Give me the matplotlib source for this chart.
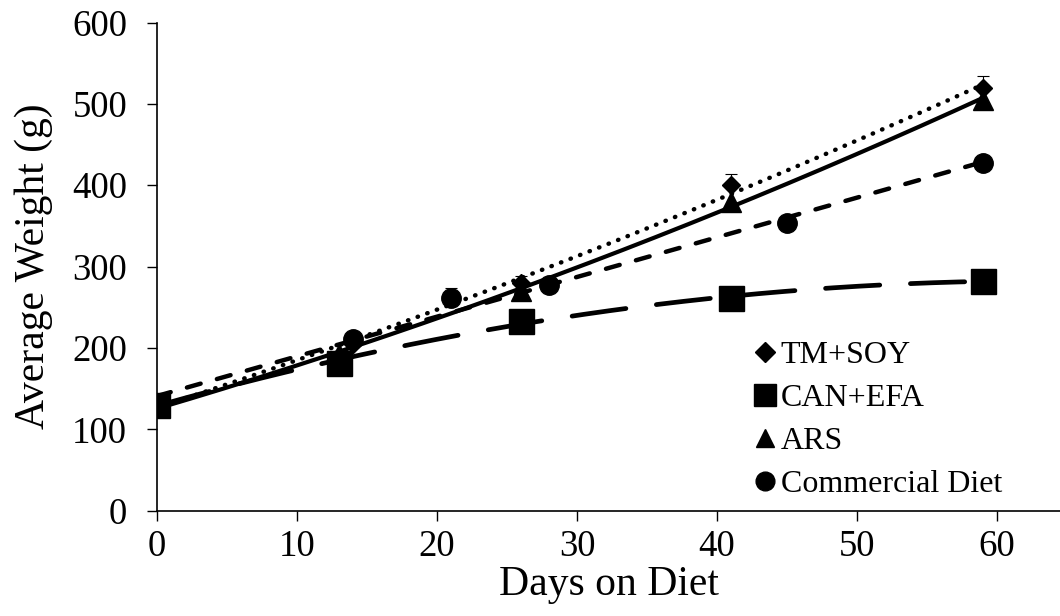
import numpy as np
import matplotlib
matplotlib.use("Agg")
import matplotlib.pyplot as plt
from matplotlib.lines import Line2D

# ---- data ----
tm_days = [0, 14, 26, 41, 59]
tm_wt = [130, 205, 280, 400, 520]
tm_err = [0, 0, 8, 14, 14]

can_days = [0, 13, 26, 41, 59]
can_wt = [130, 182, 233, 262, 282]

ars_days = [0, 13, 26, 41, 59]
ars_wt = [128, 192, 270, 380, 505]

com_days = [0, 14, 21, 28, 45, 59]
com_wt = [130, 211, 261, 277, 354, 427]
com_err = [0, 0, 13, 0, 0, 0]

series_labels = ["TM+SOY", "CAN+EFA", "ARS", "Commercial Diet"]
x_ticks = [0, 10, 20, 30, 40, 50, 60]
y_ticks = [0, 100, 200, 300, 400, 500, 600]

plt.rcParams['font.family'] = ['Liberation Serif', 'DejaVu Serif']

fig = plt.figure(figsize=(10.6, 6.16), dpi=100)
ax = fig.add_axes([157/1060, (616-510.7)/616, (1060-157)/1060, (510.7-22.5)/616])

def trend(days, wt, deg, ax, **kw):
    c = np.polyfit(days, wt, deg)
    xs = np.linspace(min(days), max(days), 200)
    ax.plot(xs, np.polyval(c, xs), color='black', **kw)

trend(tm_days, tm_wt, 2, ax, lw=3.2, linestyle=(0, (0.1, 2.2)), dash_capstyle='round', zorder=2)
trend(can_days, can_wt, 2, ax, lw=3.4, linestyle=(0, (11.5, 6.5)), dash_capstyle='round', zorder=2)
trend(ars_days, ars_wt, 2, ax, lw=3.0, linestyle='-', zorder=2)
trend(com_days, com_wt, 1, ax, lw=3.2, linestyle=(0, (3.2, 3.8)), dash_capstyle='round', zorder=2)

ekw = dict(ecolor='black', elinewidth=0.8, capsize=4, capthick=0.8)
ax.errorbar(tm_days, tm_wt, yerr=[np.zeros(len(tm_err)), tm_err], fmt='none', zorder=3, **ekw)
ax.errorbar(com_days, com_wt, yerr=[np.zeros(len(com_err)), com_err], fmt='none', zorder=3, **ekw)

ax.plot(com_days, com_wt, 'o', color='black', ms=14, zorder=4)
ax.plot(can_days, can_wt, 's', color='black', ms=18, zorder=4)
ax.plot(ars_days, ars_wt, '^', color='black', ms=15, zorder=5)
ax.plot(tm_days, tm_wt, 'D', color='black', ms=9.5, zorder=6)

ax.set_xlim(0, 64.5)
ax.set_ylim(0, 600)
ax.set_xticks(x_ticks)
ax.set_yticks(y_ticks)
ax.tick_params(axis='both', labelsize=26.5, direction='out', length=7.5, width=1, pad=14)
ax.tick_params(axis='x', pad=6)
for s in ['top', 'right']:
    ax.spines[s].set_visible(False)
for s in ['left', 'bottom']:
    ax.spines[s].set_linewidth(1.2)
ax.set_xlabel("Days on Diet", fontsize=30, labelpad=1)
ax.set_ylabel("Average Weight (g)", fontsize=30)
ax.yaxis.set_label_coords(-(157-53)/903, 0.5)

handles = [
    Line2D([], [], marker='D', color='black', ls='none', ms=10),
    Line2D([], [], marker='s', color='black', ls='none', ms=16),
    Line2D([], [], marker='^', color='black', ls='none', ms=13.5),
    Line2D([], [], marker='o', color='black', ls='none', ms=13.5),
]
fig.legend(handles, series_labels, loc='upper left', bbox_to_anchor=(752/1060, 1-341/616),
           frameon=False, fontsize=23, handlelength=0.8, handletextpad=0.1,
           labelspacing=0.42, borderpad=0, borderaxespad=0)

fig.savefig("out.png", dpi=100)
